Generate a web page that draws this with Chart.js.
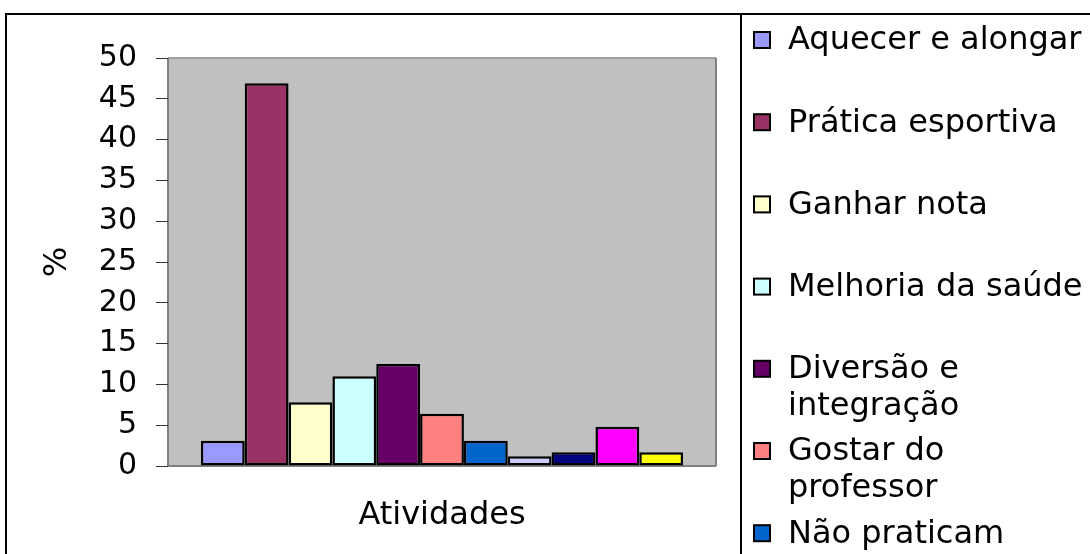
<!DOCTYPE html>
<html>
<head>
<meta charset="utf-8">
<script src="https://cdn.jsdelivr.net/npm/chart.js@4"></script>
<style>
html,body{margin:0;padding:0;background:#fff;}
#wrap{width:1090px;height:554px;position:relative;}
</style>
</head>
<body>
<div id="wrap"><canvas id="c" width="1090" height="554"></canvas></div>
<script>
const categories = ['Atividades'];
const seriesNames = ['Aquecer e alongar','Prática esportiva','Ganhar nota','Melhoria da saúde','Diversão e integração','Gostar do professor','Não praticam','Série 8','Série 9','Série 10','Série 11'];
const seriesValues = [3.1, 46.9, 7.8, 11.0, 12.5, 6.4, 3.1, 1.2, 1.7, 4.8, 1.7];
const seriesColors = ['#9999FF','#993366','#FFFFCC','#CCFFFF','#660066','#FF8080','#0066CC','#CCCCFF','#000080','#FF00FF','#FFFF00'];
const yMin = 0, yMax = 50, yStep = 5;
const yTitle = '%';

const FONT = "'DejaVu Sans', sans-serif";

const frame = {
  id: 'frame',
  beforeDraw(chart) {
    const {ctx, chartArea: a} = chart;
    ctx.save();
    ctx.fillStyle = '#fff';
    ctx.fillRect(0, 0, chart.width, chart.height);
    // outer frame
    ctx.fillStyle = '#000';
    ctx.fillRect(5, 13, chart.width - 5, 2);
    ctx.fillRect(5, 13, 2, chart.height - 13);
    ctx.fillRect(740, 13, 2, chart.height - 13);
    // plot area
    ctx.fillStyle = '#C0C0C0';
    ctx.fillRect(a.left, a.top, a.right - a.left, a.bottom - a.top);
    ctx.strokeStyle = '#A0A0A0';
    ctx.lineWidth = 2;
    ctx.beginPath();
    ctx.moveTo(a.left, a.top); ctx.lineTo(a.right, a.top);
    ctx.stroke();
    ctx.strokeStyle = '#808080';
    ctx.beginPath();
    ctx.moveTo(a.right, a.top); ctx.lineTo(a.right, a.bottom);
    ctx.moveTo(a.left, a.bottom); ctx.lineTo(a.right, a.bottom);
    ctx.moveTo(a.left, a.top); ctx.lineTo(a.left, a.bottom);
    ctx.stroke();
    ctx.restore();
  }
};

const legendPlugin = {
  id: 'customLegend',
  afterDraw(chart) {
    const {ctx} = chart;
    ctx.save();
    ctx.font = '32px ' + FONT;
    ctx.textBaseline = 'middle';
    ctx.textAlign = 'left';
    const textX = 788, boxX = 754, maxW = 302;
    chart.data.datasets.forEach((ds, i) => {
      const y0 = 40 + 82.2 * i;
      if (y0 > chart.height + 20) return;
      ctx.fillStyle = ds.backgroundColor;
      ctx.fillRect(boxX, y0 - 8, 16, 16);
      ctx.strokeStyle = '#000';
      ctx.lineWidth = 2;
      ctx.strokeRect(boxX, y0 - 8, 16, 16);
      const words = ds.label.split(' ');
      const lines = [];
      let cur = '';
      words.forEach(w => {
        const t = cur ? cur + ' ' + w : w;
        if (ctx.measureText(t).width > maxW && cur) { lines.push(cur); cur = w; }
        else cur = t;
      });
      lines.push(cur);
      ctx.fillStyle = '#000';
      lines.forEach((l, k) => ctx.fillText(l, textX, y0 + 1 + k * 37));
    });
    ctx.restore();
  }
};

new Chart(document.getElementById('c'), {
  type: 'bar',
  data: {
    labels: categories,
    datasets: seriesNames.map((n, i) => ({
      label: n,
      data: [seriesValues[i]],
      backgroundColor: seriesColors[i],
      borderColor: '#000',
      borderWidth: 2.5,
      borderSkipped: false,
      barPercentage: 1,
      categoryPercentage: 0.88
    }))
  },
  options: {
    responsive: false,
    animation: false,
    devicePixelRatio: 1,
    layout: {padding: {top: 58, right: 374, bottom: 0, left: 0}},
    plugins: {legend: {display: false}, tooltip: {enabled: false}, title: {display: false}},
    scales: {
      x: {
        ticks: {display: false},
        grid: {display: false},
        border: {display: false},
        title: {display: true, text: categories[0], color: '#000', font: {family: FONT, size: 32}, padding: {top: 0, bottom: 19}},
        afterFit(s) { s.height = 88; }
      },
      y: {
        min: yMin, max: yMax,
        ticks: {stepSize: yStep, color: '#000', font: {family: FONT, size: 30}, padding: 19},
        grid: {drawOnChartArea: false, drawTicks: true, tickLength: 12, tickColor: '#333', lineWidth: 1},
        border: {display: false},
        title: {display: true, text: yTitle, color: '#000', font: {family: FONT, size: 32}, padding: {top: 38, bottom: 0}},
        afterFit(s) { s.width = 168; }
      }
    }
  },
  plugins: [frame, legendPlugin]
});
</script>
</body>
</html>
